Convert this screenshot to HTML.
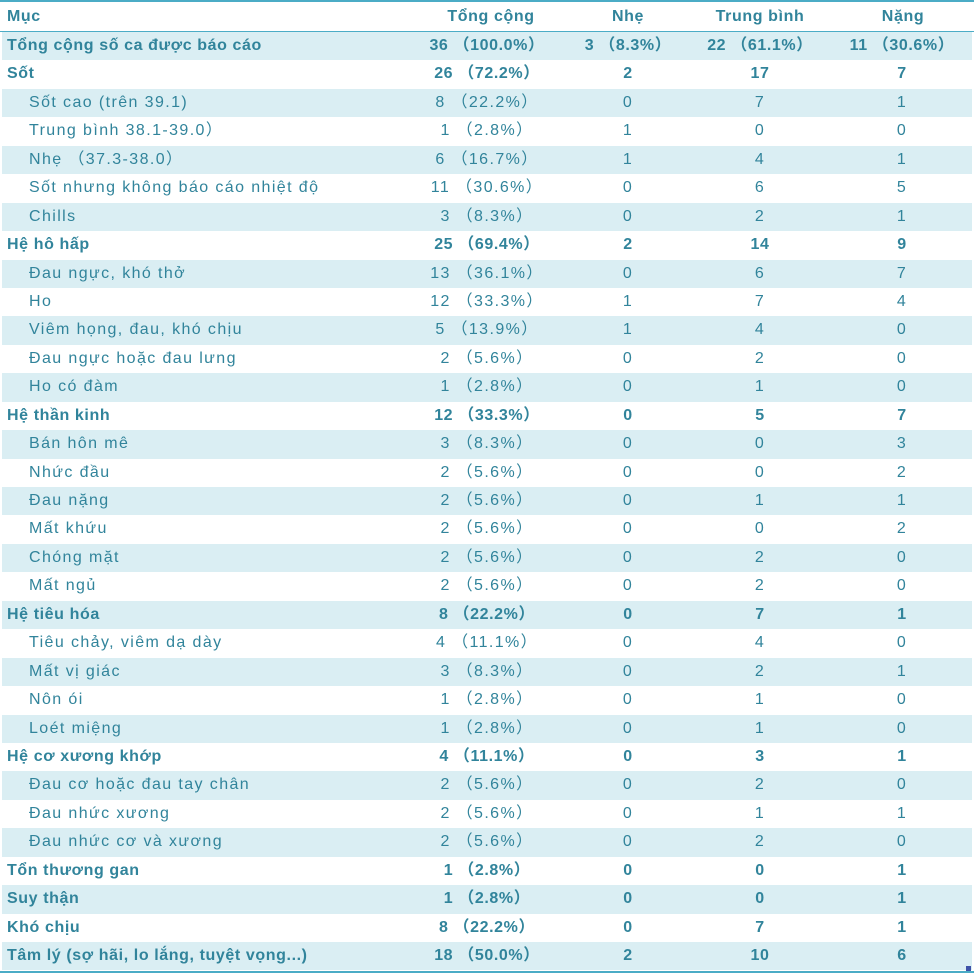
<!DOCTYPE html>
<html>
<head>
<meta charset="utf-8">
<style>
html,body{margin:0;padding:0;background:#fff;}
body{width:974px;height:974px;position:relative;overflow:hidden;
  font-family:"Liberation Sans","Noto Sans CJK JP",sans-serif;font-size:16px;color:#31849b;}
.top{position:absolute;left:0;top:0;width:974px;height:2px;background:#4bacc6;}
.hdr{position:absolute;left:0;top:2px;width:974px;height:29px;line-height:29px;font-weight:bold;letter-spacing:0.6px;}
.hline{position:absolute;left:0;top:31px;width:974px;height:1px;background:#4bacc6;}
.bline{position:absolute;left:0;top:971px;width:974px;height:2px;background:#4bacc6;}
.corner{position:absolute;left:966px;top:966px;width:5px;height:5px;background:#3d52a8;}
.rows{position:absolute;left:0;top:32px;width:974px;}
.r{position:relative;height:28.45px;line-height:28.45px;white-space:nowrap;letter-spacing:1.4px;}
.r.s{background:#daeef3;margin-left:2px;margin-right:2px;}
.r.s span{margin-left:-2px;}
.r.b{font-weight:bold;letter-spacing:0.6px;}
span{position:absolute;top:0;}
.c0{left:7px;}
.r .c0.i{left:29px;}
.c1{left:407px;width:160px;text-align:center;}
.c2{left:548px;width:160px;text-align:center;}
.c3{left:680px;width:160px;text-align:center;}
.c4{left:832px;width:140px;text-align:center;}
.hdr span{top:0;}
</style>
</head>
<body>
<div class="top"></div>
<div class="hdr">
  <span class="c0">Mục</span>
  <span class="c1" style="left:411px">Tổng cộng</span>
  <span class="c2">Nhẹ</span>
  <span class="c3">Trung bình</span>
  <span class="c4" style="left:833px">Nặng</span>
</div>
<div class="hline"></div>
<div class="rows">
<div class="r s b"><span class="c0">Tổng cộng số ca được báo cáo</span><span class="c1">36 （100.0%）</span><span class="c2">3 （8.3%）</span><span class="c3">22 （61.1%）</span><span class="c4">11 （30.6%）</span></div>
<div class="r b"><span class="c0">Sốt</span><span class="c1">26 （72.2%）</span><span class="c2">2</span><span class="c3">17</span><span class="c4">7</span></div>
<div class="r s"><span class="c0 i">Sốt cao (trên 39.1)</span><span class="c1">8 （22.2%）</span><span class="c2">0</span><span class="c3">7</span><span class="c4">1</span></div>
<div class="r"><span class="c0 i">Trung bình 38.1-39.0）</span><span class="c1">1 （2.8%）</span><span class="c2">1</span><span class="c3">0</span><span class="c4">0</span></div>
<div class="r s"><span class="c0 i">Nhẹ （37.3-38.0）</span><span class="c1">6 （16.7%）</span><span class="c2">1</span><span class="c3">4</span><span class="c4">1</span></div>
<div class="r"><span class="c0 i">Sốt nhưng không báo cáo nhiệt độ</span><span class="c1">11 （30.6%）</span><span class="c2">0</span><span class="c3">6</span><span class="c4">5</span></div>
<div class="r s"><span class="c0 i">Chills</span><span class="c1">3 （8.3%）</span><span class="c2">0</span><span class="c3">2</span><span class="c4">1</span></div>
<div class="r b"><span class="c0">Hệ hô hấp</span><span class="c1">25 （69.4%）</span><span class="c2">2</span><span class="c3">14</span><span class="c4">9</span></div>
<div class="r s"><span class="c0 i">Đau ngực, khó thở</span><span class="c1">13 （36.1%）</span><span class="c2">0</span><span class="c3">6</span><span class="c4">7</span></div>
<div class="r"><span class="c0 i">Ho</span><span class="c1">12 （33.3%）</span><span class="c2">1</span><span class="c3">7</span><span class="c4">4</span></div>
<div class="r s"><span class="c0 i">Viêm họng, đau, khó chịu</span><span class="c1">5 （13.9%）</span><span class="c2">1</span><span class="c3">4</span><span class="c4">0</span></div>
<div class="r"><span class="c0 i">Đau ngực hoặc đau lưng</span><span class="c1">2 （5.6%）</span><span class="c2">0</span><span class="c3">2</span><span class="c4">0</span></div>
<div class="r s"><span class="c0 i">Ho có đàm</span><span class="c1">1 （2.8%）</span><span class="c2">0</span><span class="c3">1</span><span class="c4">0</span></div>
<div class="r b"><span class="c0">Hệ thần kinh</span><span class="c1">12 （33.3%）</span><span class="c2">0</span><span class="c3">5</span><span class="c4">7</span></div>
<div class="r s"><span class="c0 i">Bán hôn mê</span><span class="c1">3 （8.3%）</span><span class="c2">0</span><span class="c3">0</span><span class="c4">3</span></div>
<div class="r"><span class="c0 i">Nhức đầu</span><span class="c1">2 （5.6%）</span><span class="c2">0</span><span class="c3">0</span><span class="c4">2</span></div>
<div class="r s"><span class="c0 i">Đau nặng</span><span class="c1">2 （5.6%）</span><span class="c2">0</span><span class="c3">1</span><span class="c4">1</span></div>
<div class="r"><span class="c0 i">Mất khứu</span><span class="c1">2 （5.6%）</span><span class="c2">0</span><span class="c3">0</span><span class="c4">2</span></div>
<div class="r s"><span class="c0 i">Chóng mặt</span><span class="c1">2 （5.6%）</span><span class="c2">0</span><span class="c3">2</span><span class="c4">0</span></div>
<div class="r"><span class="c0 i">Mất ngủ</span><span class="c1">2 （5.6%）</span><span class="c2">0</span><span class="c3">2</span><span class="c4">0</span></div>
<div class="r s b"><span class="c0">Hệ tiêu hóa</span><span class="c1">8 （22.2%）</span><span class="c2">0</span><span class="c3">7</span><span class="c4">1</span></div>
<div class="r"><span class="c0 i">Tiêu chảy, viêm dạ dày</span><span class="c1">4 （11.1%）</span><span class="c2">0</span><span class="c3">4</span><span class="c4">0</span></div>
<div class="r s"><span class="c0 i">Mất vị giác</span><span class="c1">3 （8.3%）</span><span class="c2">0</span><span class="c3">2</span><span class="c4">1</span></div>
<div class="r"><span class="c0 i">Nôn ói</span><span class="c1">1 （2.8%）</span><span class="c2">0</span><span class="c3">1</span><span class="c4">0</span></div>
<div class="r s"><span class="c0 i">Loét miệng</span><span class="c1">1 （2.8%）</span><span class="c2">0</span><span class="c3">1</span><span class="c4">0</span></div>
<div class="r b"><span class="c0">Hệ cơ xương khớp</span><span class="c1">4 （11.1%）</span><span class="c2">0</span><span class="c3">3</span><span class="c4">1</span></div>
<div class="r s"><span class="c0 i">Đau cơ hoặc đau tay chân</span><span class="c1">2 （5.6%）</span><span class="c2">0</span><span class="c3">2</span><span class="c4">0</span></div>
<div class="r"><span class="c0 i">Đau nhức xương</span><span class="c1">2 （5.6%）</span><span class="c2">0</span><span class="c3">1</span><span class="c4">1</span></div>
<div class="r s"><span class="c0 i">Đau nhức cơ và xương</span><span class="c1">2 （5.6%）</span><span class="c2">0</span><span class="c3">2</span><span class="c4">0</span></div>
<div class="r b"><span class="c0">Tổn thương gan</span><span class="c1">1 （2.8%）</span><span class="c2">0</span><span class="c3">0</span><span class="c4">1</span></div>
<div class="r s b"><span class="c0">Suy thận</span><span class="c1">1 （2.8%）</span><span class="c2">0</span><span class="c3">0</span><span class="c4">1</span></div>
<div class="r b"><span class="c0">Khó chịu</span><span class="c1">8 （22.2%）</span><span class="c2">0</span><span class="c3">7</span><span class="c4">1</span></div>
<div class="r s b"><span class="c0">Tâm lý (sợ hãi, lo lắng, tuyệt vọng...)</span><span class="c1">18 （50.0%）</span><span class="c2">2</span><span class="c3">10</span><span class="c4">6</span></div>
</div>
<div class="bline"></div>
<div class="corner"></div>
</body>
</html>
